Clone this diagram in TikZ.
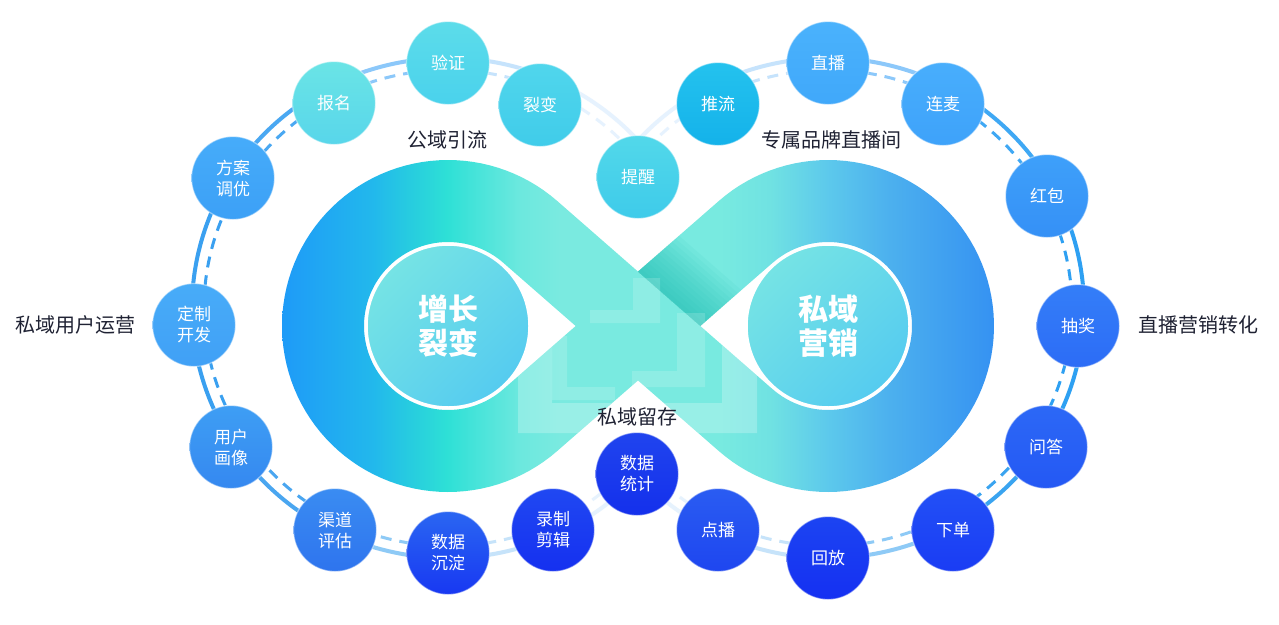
\documentclass[tikz,border=0pt]{standalone}
\usepackage{fontspec}
\setmainfont{Noto Sans CJK SC}
\newfontfamily\cjk{Noto Sans CJK SC}
\usetikzlibrary{shadings}
\definecolor{g0}{HTML}{1E9AF8}
\definecolor{g1}{HTML}{22B8EC}
\definecolor{g2}{HTML}{28D0DD}
\definecolor{g3}{HTML}{2EE0D6}
\definecolor{g4}{HTML}{4AE4DA}
\definecolor{g5}{HTML}{6CE8DE}
\definecolor{g6}{HTML}{7AEAE0}
\definecolor{g7}{HTML}{78EAE0}
\definecolor{g8}{HTML}{70E2E2}
\definecolor{g9}{HTML}{5CC8EC}
\definecolor{g10}{HTML}{4CB0EE}
\definecolor{g11}{HTML}{3592F2}
\definecolor{shadowc}{HTML}{1CBDB2}
\definecolor{labc}{HTML}{1F2233}
\definecolor{dk1}{HTML}{7CE8E2}
\definecolor{dk2}{HTML}{66D8EA}
\definecolor{dk3}{HTML}{4EC6F2}
\pgfdeclarehorizontalshading{infgrad}{100bp}{color(0bp)=(g0); color(25bp)=(g0); color(31.5bp)=(g1); color(34.6bp)=(g2); color(36.7bp)=(g3); color(39bp)=(g4); color(41.8bp)=(g5); color(44.6bp)=(g6); color(55.8bp)=(g7); color(59.3bp)=(g8); color(63.5bp)=(g9); color(67.7bp)=(g10); color(75bp)=(g11); color(100bp)=(g11)}
\tikzset{
  lsec/.style={insert path={plot[domain=48.9:311.1,samples=90] ({448+166*cos(-\x)},{326+166*sin(-\x)}) -- plot[domain=48.9:311.1,samples=90] ({448+84*cos(\x-360)},{326+84*sin(\x-360)}) -- cycle}},
  rsec/.style={insert path={plot[domain=0:262.2,samples=90] ({828+166*cos(131.1-\x)},{326+166*sin(131.1-\x)}) -- plot[domain=0:262.2,samples=90] ({828+84*cos(\x-131.1)},{326+84*sin(\x-131.1)}) -- cycle}},
  dA/.style={insert path={(557.1,200.9) -- (772.7,389.3) -- (718.9,451.1) -- (503.2,262.7) -- cycle}},
  dB/.style={insert path={(503.2,389.3) -- (718.9,200.9) -- (772.7,262.7) -- (557.1,451.1) -- cycle}},
  solidring/.style={line width=4pt},
  dashring/.style={line width=3pt, dash pattern=on 11pt off 8pt},
  bub/.style 2 args={circle, minimum size=83pt, inner sep=0pt, text=white, align=center,
    font=\cjk\fontsize{17}{21}\selectfont,
    /utils/exec={\definecolor{bubtop}{HTML}{#1}\definecolor{bubbot}{HTML}{#2}},
    top color=bubtop, bottom color=bubbot, draw=white, draw opacity=0.45, line width=1.2pt},
  lab/.style={text=labc, font=\cjk\fontsize{20}{24}\selectfont, inner sep=0pt},
  disk/.style={circle, minimum size=163pt, inner sep=0pt, draw=white, line width=2.5pt,
    upper left=dk1, upper right=dk2, lower left=dk2, lower right=dk3,
    text=white, align=center, font=\cjk\bfseries\fontsize{30}{34}\selectfont},
  pale/.style={fill=white, opacity=#1}
}
\begin{document}
\begin{tikzpicture}[x=1pt, y=-1pt]
\useasboundingbox (0,0) rectangle (1279,624);
\fill[white] (0,0) rectangle (1279,624);

% outer rings (left ellipse)
\foreach \a/\b/\c in {-66.1/-42.1/E6F2FE, -90/-66.1/C6E3FC, -118.5/-90/8CC8FA, -148.2/-118.5/4AA8F2,
  -183.9/-148.2/3AA0F0, -213.2/-183.9/3AA0F0, -243.6/-213.2/4AA6F0, -270/-243.6/8ECAF6,
  -294.8/-270/C6E3FA, -317.9/-294.8/E6F2FD} {
  \definecolor{segc}{HTML}{\c}
  \draw[solidring, segc] plot[domain=\a:\b, samples=30] ({448+256*cos(\x)},{308+250*sin(\x)});
  \draw[dashring, segc] plot[domain=\a:\b, samples=30] ({448+244*cos(\x)},{308+238*sin(\x)});
}
% outer rings (right ellipse)
\foreach \a/\b/\c in {-137.9/-117.8/E6F2FE, -117.8/-90/C6E3FC, -90/-61.2/8CC8FA, -61.2/-27.6/3FA8F4,
  -27.6/4.2/2EA0F2, 4.2/33.1/2EA0F2, 33.1/61.2/3AA4F0, 61.2/90/8ECAF6,
  90/115.8/C6E3FA, 115.8/137.9/E6F2FD} {
  \definecolor{segc}{HTML}{\c}
  \draw[solidring, segc] plot[domain=\a:\b, samples=30] ({828+256*cos(\x)},{308+250*sin(\x)});
  \draw[dashring, segc] plot[domain=\a:\b, samples=30] ({828+244*cos(\x)},{308+238*sin(\x)});
}

% infinity band
\begin{scope}
  \clip[lsec, rsec, dA, dB];
  \shade[shading=infgrad] (280,150) rectangle (994,500);
\end{scope}
% soft shadow of the upper band on the lower band
\begin{scope}
  \clip[dB];
  \begin{scope}[shift={(638,326)}, rotate=-41.1]
    \foreach \i in {1,...,12} {
      \fill[shadowc, opacity=0.07] (-230,-41) rectangle (230,{-41-4.5*\i});
    }
  \end{scope}
\end{scope}
% translucent chevrons
\begin{scope}
  \clip[lsec, rsec, dA, dB];
  \begin{scope}
    \clip (500,336) rectangle (780,450);
    \fill[pale=0.24, even odd rule] (518,300) rectangle (757,433) (552,300) rectangle (722,403);
  \end{scope}
  \fill[pale=0.16] (552,336) -- (552,400) -- (615,400) -- (615,387) -- (567,387) -- (567,336) -- cycle;
  \fill[pale=0.16] (705,313) -- (705,387) -- (632,387) -- (632,371) -- (677,371) -- (677,313) -- cycle;
  \fill[pale=0.16] (660,278) -- (660,323) -- (590,323) -- (590,310) -- (633,310) -- (633,278) -- cycle;
\end{scope}

% inner disks
\node[disk] (growth) at (448,326) {增长\\裂变};
\node[disk] (private) at (828,326) {私域\\营销};

% bubbles
\node[bub={6AE4E6}{58D6EA}] (baoming) at (334,103) {报名};
\node[bub={5CDCEA}{4AD2EC}] (yanzheng) at (448,63) {验证};
\node[bub={50D6EC}{40CCEA}] (liebian) at (540,105) {裂变};
\node[bub={52D8EA}{3ECBEA}] (tixing) at (638,177) {提醒};
\node[bub={24C2EE}{14B2EA}] (tuiliu) at (718,104) {推流};
\node[bub={4AB2FC}{40A8FA}] (zhibo) at (828,63) {直播};
\node[bub={48AEFC}{3EA2FA}] (lianmai) at (943,104) {连麦};
\node[bub={3EA0FA}{3590F6}] (hongbao) at (1047,196) {红包};
\node[bub={347EF8}{2C6CF6}] (choujiang) at (1078,326) {抽奖};
\node[bub={2C68F6}{2458F4}] (wenda) at (1046,447) {问答};
\node[bub={2250F6}{1A3CF4}] (xiadan) at (953,530) {下单};
\node[bub={1C44F2}{1530F2}] (huifang) at (828,558) {回放};
\node[bub={2A5CF2}{1E46F0}] (dianbo) at (718,530) {点播};
\node[bub={2044EE}{1430EC}] (shujutongji) at (637,474) {数据\\统计};
\node[bub={2048F2}{1530F0}] (luzhi) at (553,530) {录制\\剪辑};
\node[bub={2A66F2}{1838F2}] (chendian) at (448,553) {数据\\沉淀};
\node[bub={3A8CF2}{2E74EE}] (qudao) at (335,530) {渠道\\评估};
\node[bub={3E9EF4}{3588F0}] (huaxiang) at (231,447) {用户\\画像};
\node[bub={48ACF8}{40A0F6}] (dingzhi) at (194,325) {定制\\开发};
\node[bub={46ACFA}{3CA0F6}] (fangan) at (233,178) {方案\\调优};

% labels
\node[lab] (gongyu) at (447,140) {公域引流};
\node[lab] (zhuanshu) at (831,140) {专属品牌直播间};
\node[lab] (yunying) at (75,325) {私域用户运营};
\node[lab] (zhuanhua) at (1198,325) {直播营销转化};
\node[lab] (liucun) at (637,417) {私域留存};
\end{tikzpicture}
\end{document}
